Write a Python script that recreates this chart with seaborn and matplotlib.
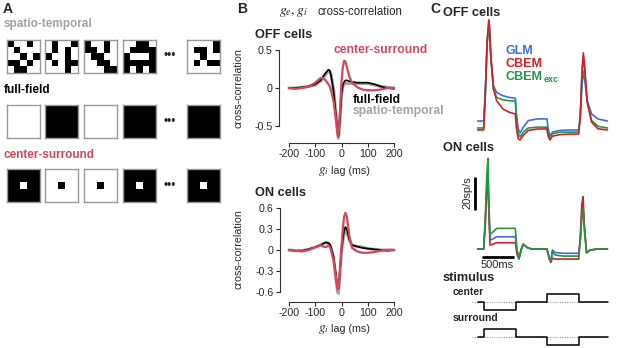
import numpy as np
import pandas as pd
import matplotlib
matplotlib.use("Agg")
import matplotlib.pyplot as plt
import seaborn as sns
from matplotlib.colors import ListedColormap

sns.set_theme(style="white")
plt.rcParams["font.family"] = ["Liberation Sans", "DejaVu Sans"]
plt.rcParams["mathtext.fontset"] = "stix"

# ---------------- data ----------------
# panel A: 5x5 example frames (1 = black)
st_frames = [
    [[1, 0, 0, 1, 0], [0, 1, 0, 0, 0], [0, 0, 1, 0, 1], [1, 1, 0, 1, 0], [0, 1, 1, 0, 0]],
    [[0, 1, 0, 0, 1], [0, 1, 0, 1, 0], [1, 0, 0, 1, 0], [0, 1, 0, 1, 1], [0, 0, 0, 1, 0]],
    [[1, 0, 0, 1, 0], [1, 1, 0, 1, 0], [0, 1, 1, 0, 0], [0, 0, 1, 1, 0], [0, 0, 0, 1, 1]],
    [[0, 0, 1, 1, 0], [0, 1, 1, 1, 1], [1, 0, 0, 0, 1], [1, 1, 1, 1, 1], [1, 0, 1, 0, 1]],
    [[0, 0, 0, 0, 1], [0, 1, 1, 0, 1], [0, 0, 1, 0, 0], [0, 1, 0, 1, 1], [0, 0, 0, 0, 0]],
]
ff_frames = [0, 1, 0, 1, 1]          # full-field luminance (1 = black)
cs_surround = [1, 0, 0, 1, 1]        # center-surround: surround colour, center is opposite

# panel B: cross-correlation of g_e, g_i
lags = [-200, -175, -150, -125, -100, -80, -70, -60, -50, -45, -40, -30, -20, -15, -12, -10,
        -5, 0, 5, 10, 15, 20, 30, 40, 60, 80, 100, 125, 150, 175, 200]
off_cs = [0, -0.01, 0, 0.02, 0.07, 0.13, 0.13, 0.1, 0.05, 0.02, -0.03, -0.18, -0.45, -0.6, -0.62, -0.55,
          -0.25, 0.08, 0.27, 0.36, 0.35, 0.28, 0.15, 0.07, 0.01, -0.02, -0.03, -0.03, -0.02, 0, 0]
off_ff = [0, 0, 0.01, 0.02, 0.05, 0.1, 0.15, 0.2, 0.24, 0.23, 0.17, -0.05, -0.4, -0.58, -0.63, -0.6,
          -0.35, -0.08, 0.04, 0.08, 0.1, 0.1, 0.09, 0.08, 0.07, 0.07, 0.07, 0.05, 0.02, 0, -0.01]
off_st = [0, 0, 0.01, 0.02, 0.04, 0.09, 0.13, 0.18, 0.22, 0.22, 0.18, -0.02, -0.38, -0.6, -0.66, -0.62,
          -0.38, -0.1, 0.02, 0.05, 0.06, 0.06, 0.06, 0.06, 0.06, 0.06, 0.06, 0.04, 0.02, 0.01, 0]
on_cs = [0, -0.01, -0.02, 0, 0.04, 0.07, 0.05, 0.04, 0.06, 0.05, 0, -0.15, -0.42, -0.56, -0.55, -0.5,
         -0.25, 0.05, 0.3, 0.48, 0.53, 0.48, 0.2, 0.03, -0.02, -0.04, -0.04, -0.03, -0.01, 0, 0]
on_ff = [0, -0.01, -0.01, 0.01, 0.04, 0.07, 0.09, 0.11, 0.1, 0.08, 0.04, -0.1, -0.4, -0.55, -0.56, -0.5,
         -0.25, 0, 0.15, 0.28, 0.33, 0.3, 0.15, 0.07, 0.05, 0.03, 0.02, 0.01, 0, -0.01, 0]
on_st = [0, -0.01, -0.01, 0.01, 0.04, 0.07, 0.09, 0.1, 0.1, 0.08, 0.04, -0.12, -0.45, -0.6, -0.62, -0.55,
         -0.28, -0.02, 0.12, 0.24, 0.28, 0.26, 0.14, 0.07, 0.05, 0.04, 0.02, 0.01, 0, 0, 0]

# panel C: firing rates (sp/s) vs time (ms)
t_off = [-100, -5, 20, 50, 75, 85, 110, 150, 200, 300, 400, 495, 510, 540, 570, 620, 700, 850, 995,
         1010, 1040, 1080, 1200, 1350, 1495, 1520, 1550, 1570, 1590, 1630, 1700, 1800, 1950]
off_glm = [12.7, 12.7, 30, 60, 70, 68, 50, 34, 30, 28, 27, 26.5, 18, 8, 5.5, 9, 13, 14, 14,
           9, 3.6, 6, 7, 7.3, 7.3, 15, 35, 43, 38, 25, 17, 14, 12.7]
off_cbem = [7.3, 7.3, 28, 62, 74, 72, 52, 32, 25, 20, 18, 17, 9, 2, 1.2, 4, 7, 7.9, 7.9,
            4, 1.2, 3.5, 4.5, 4.8, 4.8, 15, 45, 54, 46, 24, 12, 8, 7.3]
off_exc = [8.5, 8.5, 28, 60, 71, 69, 50, 32, 27, 25.5, 25, 24.8, 15, 5, 3, 6, 8.5, 9, 9,
           5, 3, 5, 6, 6, 6, 15, 42, 51, 44, 25, 13, 9.5, 8.5]

t_on = [-100, -5, 20, 45, 63, 75, 95, 130, 200, 300, 400, 495, 520, 553, 590, 621, 680, 750, 900, 995,
        1030, 1058, 1080, 1120, 1250, 1400, 1495, 1520, 1545, 1564, 1585, 1620, 1680, 1800, 1950]
on_glm = [9.1, 9.1, 25, 45, 52, 35, 14.5, 15, 16.5, 16.5, 16.5, 16.5, 8, 3.4, 9, 12, 10, 9.1, 9.1, 9.1,
          4, 2, 8.5, 7, 6.5, 6.5, 6.5, 14, 30, 36, 22, 7, 8.5, 9.1, 9.1]
on_cbem = [9.1, 9.1, 24, 47, 55.8, 33, 11.5, 11.8, 12.9, 12.9, 12.9, 12.9, 6, 3, 9, 12.1, 10, 9.1, 9.1, 9.1,
           3, 1, 3.5, 3, 3, 3, 3, 16, 36, 40.8, 24, 6.7, 8.5, 9.1, 9.1]
on_exc = [9.1, 9.1, 28, 55, 64, 40, 17.6, 19, 21.6, 21.6, 21.6, 21.6, 9, 3.4, 9.5, 12, 10, 9.1, 9.1, 9.1,
          3.5, 1.4, 7.5, 5.5, 4.8, 4.8, 4.8, 13, 28, 34, 21, 7, 8.5, 9.1, 9.1]

stim_t = [-100, 0, 500, 1000, 1500, 1960]
stim_center = [0, -1, 0, 1, 0, 0]
stim_surround = [0, 1, 0, -1, 0, 0]

RED_B = "#D6475C"
GRAY = "#A3A3A3"
BLUE = "#3D6FE0"
RED_C = "#D21F2C"
GREEN = "#1F9A40"
INK = "#2A2A2A"

W, H = 617, 348
fig = plt.figure(figsize=(W / 100, H / 100), dpi=100)


def px_axes(l, t, r, b):
    return fig.add_axes([l / W, 1 - b / H, (r - l) / W, (b - t) / H])


def ftext(x, y, s, **kw):
    kw.setdefault("va", "center")
    fig.text(x / W, 1 - y / H, s, **kw)


# ---------------- panel A ----------------
ftext(3, 9, "A", fontsize=10, fontweight="bold")
ftext(4, 24, "spatio-temporal", fontsize=8.5, fontweight="bold", color=GRAY)
ftext(4, 90, "full-field", fontsize=8.5, fontweight="bold", color="black")
ftext(4, 155, "center-surround", fontsize=8.5, fontweight="bold", color=RED_B)

bw = ListedColormap(["white", "black"])
lefts = [7, 45, 84, 123, 187]
rows = [(40, 73), (105, 138), (169, 202)]
for i, l in enumerate(lefts):
    ff = np.full((1, 1), ff_frames[i])
    cs = np.full((5, 5), cs_surround[i])
    cs[2, 2] = 1 - cs_surround[i]
    for mat, (top, bot) in zip([np.array(st_frames[i]), ff, cs], rows):
        ax = px_axes(l, top, l + 33, bot)
        sns.heatmap(mat, cmap=bw, vmin=0, vmax=1, cbar=False, ax=ax,
                    xticklabels=False, yticklabels=False)
        for s in ax.spines.values():
            s.set_visible(True)
            s.set_color("#9A9A9A")
            s.set_linewidth(1.0)
for top, bot in rows:
    ftext(170, (top + bot) / 2, "•••", fontsize=8.5, ha="center")

# ---------------- panel B ----------------
ftext(237, 9, "B", fontsize=10, fontweight="bold")
ftext(279, 12, r"$g_e, g_i$", fontsize=10)
ftext(318, 12, "cross-correlation", fontsize=8.3, color=INK)


def xc_axes(top, bot, ylim, yticks, yfmt, lo, bo, curves):
    ax = px_axes(289, top, 394, bot)
    for y, c, lw in curves:
        sns.lineplot(x=lags, y=y, ax=ax, color=c, lw=lw, clip_on=False)
    ax.set_xlim(-200, 200)
    ax.set_ylim(*ylim)
    ax.set_xticks([-200, -100, 0, 100, 200])
    ax.set_xticklabels(["-200", "-100", "0", "100", "200"])
    ax.set_yticks(yticks)
    ax.set_yticklabels(yfmt)
    sns.despine(ax=ax)
    ax.spines["left"].set_position(("outward", lo))
    ax.spines["bottom"].set_position(("outward", bo))
    ax.spines["left"].set_bounds(yticks[0], yticks[-1])
    ax.spines["bottom"].set_bounds(-200, 200)
    for s in ["left", "bottom"]:
        ax.spines[s].set_color("#333333")
        ax.spines[s].set_linewidth(0.8)
    ax.tick_params(axis="both", which="both", direction="out", length=3, width=0.8,
                   labelsize=7.7, colors=INK, pad=1.5, left=True, bottom=True)
    ax.set_xlabel("")
    ax.set_ylabel("")
    return ax


xc_axes(50, 139.7, (-0.68, 0.5), [-0.5, 0, 0.5], ["-0.5", "0", "0.5"], 7.2, 2.4,
        [(off_st, GRAY, 2.2), (off_ff, "black", 1.2), (off_cs, RED_B, 1.6)])
xc_axes(208, 297.6, (-0.68, 0.6), [-0.6, -0.3, 0, 0.3, 0.6], ["-0.6", "-0.3", "0", "0.3", "0.6"],
        6.5, 3.2, [(on_st, GRAY, 2.2), (on_ff, "black", 1.2), (on_cs, RED_B, 1.6)])

ftext(255, 35, "OFF cells", fontsize=9.2, fontweight="bold")
ftext(255, 193, "ON cells", fontsize=9.2, fontweight="bold")
ftext(238, 88, "cross-correlation", fontsize=7.7, rotation=90, ha="center", color=INK)
ftext(238, 249, "cross-correlation", fontsize=7.7, rotation=90, ha="center", color=INK)
for yy in (171, 329):
    ftext(318, yy, r"$g_i$", fontsize=9.5)
    ftext(331, yy, "lag (ms)", fontsize=7.7, color=INK)
ftext(334, 50, "center-surround", fontsize=8.7, fontweight="bold", color=RED_B)
ftext(353, 100, "full-field", fontsize=8.7, fontweight="bold", color="black")
ftext(353, 111, "spatio-temporal", fontsize=8.7, fontweight="bold", color=GRAY)

# ---------------- panel C ----------------
PX0, PXMS = 484, 0.0633   # time axis: pixel of t=0 and pixels per ms
SP = 1.65                 # pixels per sp/s


def trace_axes(l, t, r, b, zero_px):
    ax = px_axes(l, t, r, b)
    ax.set_xlim((l - PX0) / PXMS, (r - PX0) / PXMS)
    ax.set_ylim((zero_px - b) / SP, (zero_px - t) / SP)
    ax.axis("off")
    return ax


ax_off = trace_axes(470, 10, 615, 146, 142)
for y, c in [(off_glm, BLUE), (off_exc, GREEN), (off_cbem, RED_C)]:
    sns.lineplot(x=t_off, y=y, ax=ax_off, color=c, lw=1.2, clip_on=False)

ax_on = trace_axes(460, 150, 615, 272, 264)
for y, c in [(on_glm, BLUE), (on_cbem, RED_C), (on_exc, GREEN)]:
    sns.lineplot(x=t_on, y=y, ax=ax_on, color=c, lw=1.2, clip_on=False)

# scale bars: 20 sp/s and 500 ms
ax_on.plot([-142, -142], [32.7, 52.7], color="black", lw=2, solid_capstyle="butt")
ax_on.plot([-30, 470], [4.2, 4.2], color="black", lw=2, solid_capstyle="butt")
ftext(467, 193, "20sp/s", fontsize=8, rotation=90, ha="center", color=INK)
ftext(497, 265, "500ms", fontsize=8, ha="center", color=INK)

ftext(430, 9, "C", fontsize=10, fontweight="bold")
ftext(443, 13, "OFF cells", fontsize=9.2, fontweight="bold")
ftext(443, 148, "ON cells", fontsize=9.2, fontweight="bold")
ftext(506, 51, "GLM", fontsize=9, fontweight="bold", color=BLUE)
ftext(506, 64, "CBEM", fontsize=9, fontweight="bold", color=RED_C)
ftext(506, 77, "CBEM", fontsize=9, fontweight="bold", color=GREEN)
ftext(544, 80, "exc", fontsize=6.5, fontweight="bold", color=GREEN)

# stimulus
ax_st = px_axes(470, 285, 615, 350)
ax_st.set_xlim((470 - PX0) / PXMS, (615 - PX0) / PXMS)
ax_st.set_ylim(-6, 2.125)
ax_st.axis("off")
for lev, off in [(stim_center, 0), (stim_surround, -35 / 8)]:
    ax_st.hlines(off, -190, stim_t[-1], color="#8A8A8A", lw=0.7, linestyles=(0, (1, 1.5)))
    sns.lineplot(x=stim_t, y=np.array(lev) + off, ax=ax_st, color="black", lw=1.1,
                 drawstyle="steps-post", clip_on=False)
ftext(443, 278, "stimulus", fontsize=9.2, fontweight="bold")
ftext(453, 292, "center", fontsize=7.5, fontweight="bold")
ftext(453, 318, "surround", fontsize=7.5, fontweight="bold")

fig.savefig("out.png", dpi=100)
